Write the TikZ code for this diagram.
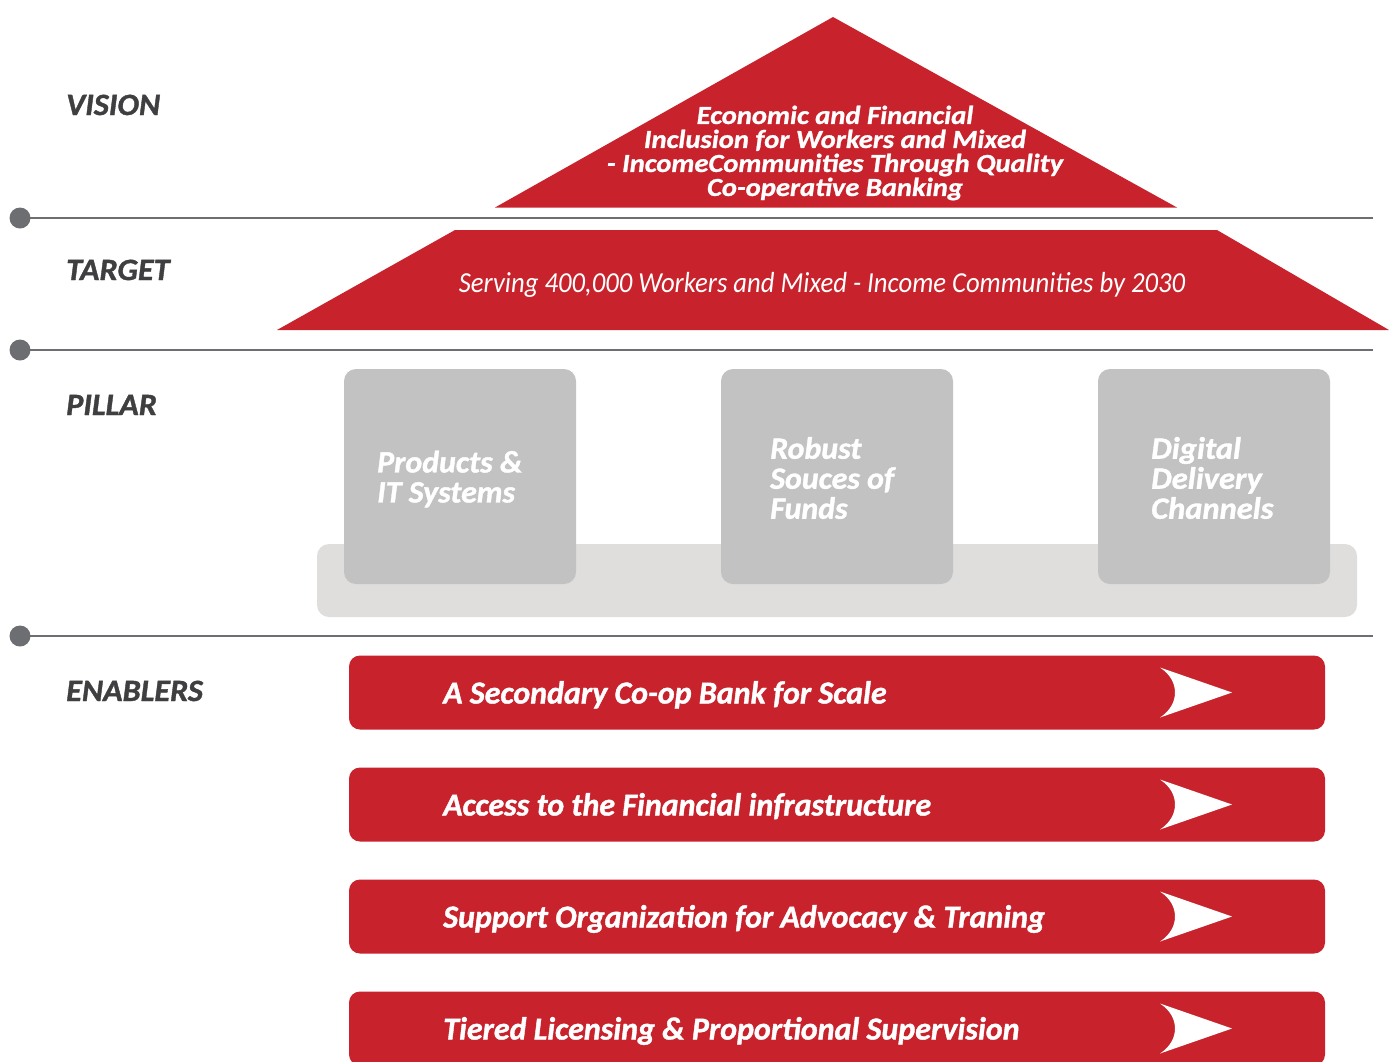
\documentclass[tikz,border=0pt]{standalone}
\usepackage{fontspec}
\setmainfont{Carlito}
\newfontfamily\labelfont[FakeStretch=1.04,FakeBold=1.2]{Carlito Bold Italic}
\newfontfamily\visionfont[FakeStretch=1.10,FakeBold=1.0]{Carlito Bold Italic}
\newfontfamily\targetfont[FakeStretch=0.92]{Carlito Italic}
\newfontfamily\pillarfont[FakeStretch=1.03,FakeBold=1.2]{Carlito Bold Italic}
\newfontfamily\digitalfont[FakeStretch=1.05,FakeBold=1.2]{Carlito Bold Italic}
\newfontfamily\enablerfont[FakeStretch=1.0,FakeBold=1.2]{Carlito Bold Italic}
\definecolor{brandred}{HTML}{C8232C}
\definecolor{linegray}{HTML}{6D6E71}
\definecolor{labelgray}{HTML}{3F3F41}
\definecolor{pillargray}{HTML}{C2C2C2}
\definecolor{basegray}{HTML}{DFDEDD}
\begin{document}
\begin{tikzpicture}[x=1pt,y=-1pt,
  sectlabel/.style={anchor=base west,inner sep=0pt,text=labelgray,font=\labelfont\fontsize{31}{34}\selectfont},
  divider/.style={draw=linegray,line width=2.2pt},
  dot/.style={circle,fill=linegray,minimum size=21pt,inner sep=0pt},
  pillarbox/.style={fill=pillargray,rounded corners=12pt,minimum width=232pt,minimum height=215pt,inner sep=0pt},
  pillartext/.style={anchor=west,align=left,inner sep=0pt,text=white,font=\pillarfont\fontsize{31}{30}\selectfont},
  enablerbar/.style={fill=brandred,rounded corners=11pt,minimum width=976pt,minimum height=74pt,inner sep=0pt},
  enablertext/.style={anchor=base west,inner sep=0pt,text=white,font=\enablerfont\fontsize{32}{34}\selectfont},
  chevron/.style={fill=white}
]
\useasboundingbox (0,0) rectangle (1389,1061);
\clip (0,0) rectangle (1389,1061);

% section labels
\node[sectlabel] (lvision) at (66,115) {VISION};
\node[sectlabel] (ltarget) at (66,280) {TARGET};
\node[sectlabel] (lpillar) at (66,415) {PILLAR};
\node[sectlabel] (lenablers) at (66,701) {ENABLERS};

% dividers
\foreach \y/\n in {218/a,350/b,636/c}{
  \node[dot] (dot\n) at (20,\y) {};
  \coordinate (end\n) at (1373,\y);
  \draw[divider] (dot\n.center) -- (end\n);
}

% vision triangle
\coordinate (vapex) at (833,17);
\coordinate (vleft) at (495,207.5);
\coordinate (vright) at (1177,207.5);
\fill[brandred] (vapex) -- (vright) -- (vleft) -- cycle;
\node[align=center,inner sep=0pt,text=white,font=\visionfont\fontsize{26}{24}\selectfont] (vtext) at (835,153)
  {Economic and Financial\\Inclusion for Workers and Mixed\\- IncomeCommunities Through Quality\\Co-operative Banking};

% target trapezoid
\coordinate (tl) at (455,230);
\coordinate (tr) at (1217,230);
\coordinate (br) at (1389,330);
\coordinate (bl) at (277,330);
\fill[brandred] (tl) -- (tr) -- (br) -- (bl) -- cycle;
\node[anchor=base,inner sep=0pt,text=white,font=\targetfont\fontsize{29}{30}\selectfont] (ttext) at (822,292)
  {Serving 400,000 Workers and Mixed - Income Communities by 2030};

% pillars
\node[fill=basegray,rounded corners=12pt,minimum width=1040pt,minimum height=73pt,inner sep=0pt] (pbase) at (837,580.5) {};
\node[pillarbox] (p1) at (460,476.5) {};
\node[pillarbox] (p2) at (837,476.5) {};
\node[pillarbox] (p3) at (1214,476.5) {};
\node[pillartext] (p1t) at (377,479) {Products \&\\IT Systems};
\node[pillartext] (p2t) at (770,478) {Robust\\Souces of\\Funds};
\node[pillartext,font=\digitalfont\fontsize{31}{30}\selectfont] (p3t) at (1151,478) {Digital\\Delivery\\Channels};

% enablers
\foreach \i/\y/\t in {1/692.5/{A Secondary Co-op Bank for Scale},
                      2/804.5/{Access to the Financial infrastructure},
                      3/916.5/{Support Organization for Advocacy \& Traning},
                      4/1028.5/{Tiered Licensing \& Proportional Supervision}}{
  \node[enablerbar] (e\i) at (837,\y) {};
  \node[enablertext] (e\i t) at ([shift={(-394,11)}]e\i.center) {\t};
  \fill[chevron] ([shift={(323,-25)}]e\i.center) -- ([shift={(395,0)}]e\i.center) -- ([shift={(323,25)}]e\i.center)
     .. controls ([shift={(343,12)}]e\i.center) and ([shift={(343,-12)}]e\i.center) .. cycle;
}
\end{tikzpicture}
\end{document}
